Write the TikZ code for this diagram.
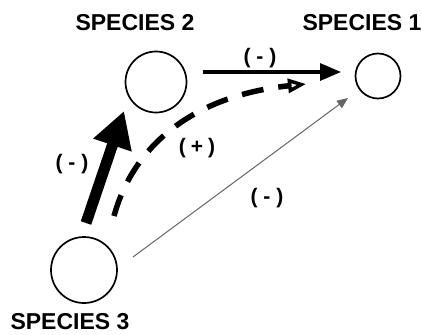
\documentclass[tikz,border=0pt]{standalone}
\usepackage{fontspec}
\setmainfont{Liberation Sans}
\usetikzlibrary{arrows.meta}
\begin{document}
\begin{tikzpicture}[x=1pt,y=-1pt,
  species/.style={draw=black, line width=1.7pt, circle, inner sep=0pt},
  spname/.style={font=\fontsize{23}{25}\selectfont\bfseries, inner sep=0pt},
  sign/.style={font=\fontsize{21}{23}\selectfont\bfseries, inner sep=0pt}]
  \useasboundingbox (0,0) rectangle (421,335);
  \fill[white] (0,0) rectangle (421,335);

  % species circles
  \node[species, minimum size=61pt] (s2) at (156,82) {};
  \node[species, minimum size=45pt] (s1) at (378,76) {};
  \node[species, minimum size=66pt] (s3) at (84,270) {};

  % species names
  \node[spname] (n2) at (135,23) {SPECIES 2};
  \node[spname] (n1) at (362,23) {SPECIES 1};
  \node[spname] (n3) at (70,322) {SPECIES 3};

  % connector end points
  \coordinate (a21s) at (203,72);
  \coordinate (a21e) at (341,72);
  \coordinate (a32s) at (86,223);
  \coordinate (a32e) at (124,111);
  \coordinate (a31s) at (133,257);
  \coordinate (a31e) at (348,98);
  \coordinate (d31s) at (114,216);
  \coordinate (d31e) at (306,84);

  % direct effect of species 2 on species 1
  \draw[line width=3.2pt, -{Triangle[length=21pt,width=17pt]}] (a21s) -- (a21e);
  % strong effect of species 3 on species 2
  \draw[line width=11pt, -{Triangle[length=36pt,width=38pt]}] (a32s) -- (a32e);
  % weak direct effect of species 3 on species 1
  \draw[line width=1pt, gray!80!black, -{Triangle[length=11pt,width=9pt]}] (a31s) -- (a31e);
  % indirect effect (dashed)
  \draw[line width=5.5pt, dash pattern=on 22pt off 15pt,
        -{Triangle[open,length=18pt,width=14pt,line width=3.5pt]}]
    (d31s) .. controls (135,140) and (200,95) .. (d31e);

  % signs
  \node[sign] (l21) at (260,58) {(\kern6pt-\kern6pt)};
  \node[sign] (l32) at (72,164) {(\kern6pt-\kern6pt)};
  \node[sign] (l23) at (197,148) {(\kern5pt+\kern5pt)};
  \node[sign] (l31) at (267,198) {(\kern6pt-\kern6pt)};
\end{tikzpicture}
\end{document}
